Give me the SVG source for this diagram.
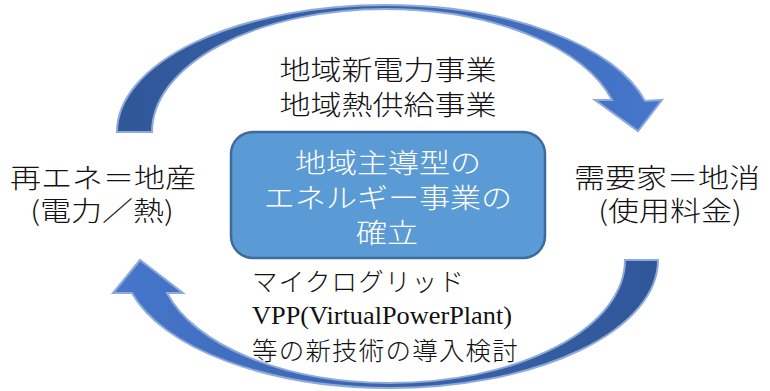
<svg xmlns="http://www.w3.org/2000/svg" width="770" height="391" viewBox="0 0 770 391">
<defs>
<linearGradient id="gTop" x1="0" y1="0" x2="1" y2="0">
<stop offset="0" stop-color="#2f5798"/>
<stop offset="0.45" stop-color="#3a62aa"/>
<stop offset="1" stop-color="#4677cc"/>
</linearGradient>
<linearGradient id="gBot" x1="0" y1="0" x2="1" y2="0">
<stop offset="0" stop-color="#4677cc"/>
<stop offset="0.55" stop-color="#3a62aa"/>
<stop offset="1" stop-color="#2f5798"/>
</linearGradient>
<style>
.arr{stroke:#8eaadb;stroke-width:2;stroke-linejoin:miter}
.jp{font-family:"Noto Sans CJK JP","Noto Sans",sans-serif;font-weight:300;fill:#111}
.big{font-size:27px}
.box{fill:#5b9bd5;stroke:#3e6aa0;stroke-width:2.5}
.wt{fill:#ffffff}
.sm{font-size:25.5px;letter-spacing:1.2px}
.vpp{font-family:"Liberation Serif","Times New Roman",serif;font-size:26px;fill:#111}
</style>
</defs>
<g id="connectors">
<path class="arr" fill="url(#gTop)" d="M117,132 A268,127 0 0 1 385,5 A268,127 0 0 1 645,101 L662,100 L638,131 L595,100 L612,100 A235,123 0 0 0 385,9 A233,123 0 0 0 152,132 Z"/>
<path class="arr" fill="url(#gBot)" d="M658,260 A268,128 0 0 1 390,388 A268,128 0 0 1 132,293 L113,293 L140,260 L183,293 L167,293 A232,123 0 0 0 390,383 A235,123 0 0 0 625,260 Z"/>
</g>
<g id="label-top">
<text class="jp big" transform="matrix(1.15,0,0,1,388,80)" text-anchor="middle">地域新電力事業</text>
<text class="jp big" transform="matrix(1.15,0,0,1,388,115)" text-anchor="middle">地域熱供給事業</text>
</g>
<g id="center">
<rect class="box" x="231" y="132" width="314" height="126" rx="22"/>
<text class="jp big wt" transform="matrix(1.15,0,0,1,388,173)" text-anchor="middle">地域主導型の</text>
<text class="jp big wt" transform="matrix(1.15,0,0,1,388,208)" text-anchor="middle">エネルギー事業の</text>
<text class="jp big wt" transform="matrix(1.15,0,0,1,387,243)" text-anchor="middle">確立</text>
</g>
<g id="left">
<text class="jp big" transform="matrix(1.15,0,0,1,103,188)" text-anchor="middle">再エネ＝地産</text>
<text class="jp big" transform="matrix(1.15,0,0,1,102,221)" text-anchor="middle">(電力／熱)</text>
</g>
<g id="right">
<text class="jp big" transform="matrix(1.15,0,0,1,667,188)" text-anchor="middle">需要家＝地消</text>
<text class="jp big" transform="matrix(1.15,0,0,1,670,221)" text-anchor="middle">(使用料金)</text>
</g>
<g id="label-bottom">
<text class="jp sm" x="252" y="291">マイクログリッド</text>
<text class="vpp" x="252" y="324" textLength="260" lengthAdjust="spacingAndGlyphs">VPP(VirtualPowerPlant)</text>
<text class="jp sm" x="252" y="360">等の新技術の導入検討</text>
</g>
</svg>
